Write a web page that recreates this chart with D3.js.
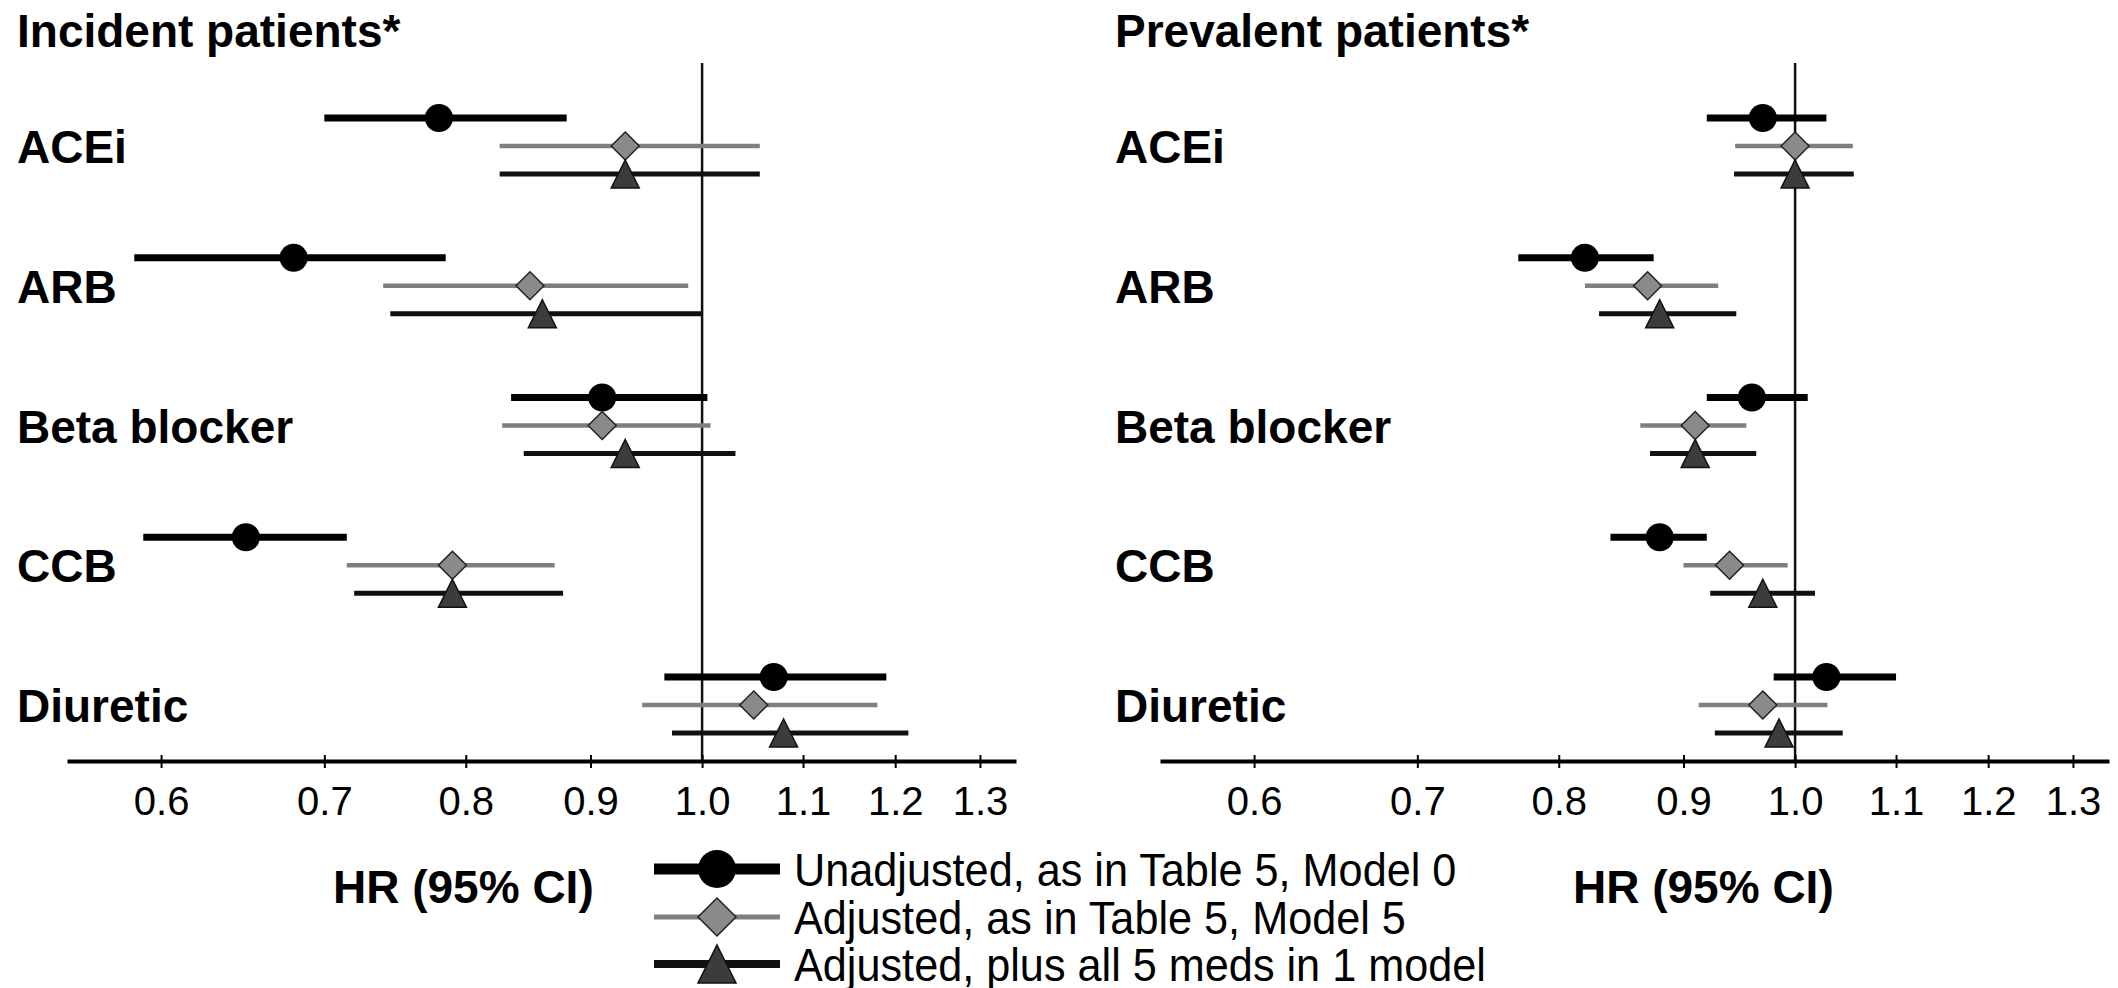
<!DOCTYPE html>
<html>
<head>
<meta charset="utf-8">
<script src="https://cdn.jsdelivr.net/npm/d3@7"></script>
<style>
  body { margin: 0; background: #fff; }
  text { font-family: "Liberation Sans", Arial, sans-serif; fill: #000; }
</style>
</head>
<body>
<script>
const w = 2118;
const h = 988;

// data
const categories = ["ACEi", "ARB", "Beta blocker", "CCB", "Diuretic"];
const tickValues = [0.6, 0.7, 0.8, 0.9, 1.0, 1.1, 1.2, 1.3];
const seriesNames = ["Unadjusted, as in Table 5, Model 0", "Adjusted, as in Table 5, Model 5", "Adjusted, plus all 5 meds in 1 model"];
const panelTitles = ["Incident patients*", "Prevalent patients*"];

// incident patients
const incUnadjEst = [0.78, 0.68, 0.91, 0.65, 1.07];
const incUnadjLo  = [0.70, 0.585, 0.835, 0.59, 0.965];
const incUnadjHi  = [0.88, 0.785, 1.005, 0.715, 1.19];
const incAdj5Est  = [0.93, 0.85, 0.91, 0.79, 1.05];
const incAdj5Lo   = [0.826, 0.74, 0.828, 0.715, 0.945];
const incAdj5Hi   = [1.056, 0.987, 1.008, 0.87, 1.18];
const incAllEst   = [0.93, 0.86, 0.93, 0.79, 1.08];
const incAllLo    = [0.826, 0.745, 0.845, 0.72, 0.972];
const incAllHi    = [1.056, 1.00, 1.032, 0.877, 1.215];

// prevalent patients
const prvUnadjEst = [0.97, 0.82, 0.96, 0.88, 1.03];
const prvUnadjLo  = [0.92, 0.77, 0.92, 0.84, 0.98];
const prvUnadjHi  = [1.03, 0.875, 1.012, 0.92, 1.10];
const prvAdj5Est  = [1.00, 0.87, 0.91, 0.94, 0.97];
const prvAdj5Lo   = [0.945, 0.82, 0.864, 0.90, 0.913];
const prvAdj5Hi   = [1.056, 0.93, 0.955, 0.993, 1.031];
const prvAllEst   = [1.00, 0.88, 0.91, 0.97, 0.985];
const prvAllLo    = [0.944, 0.831, 0.872, 0.923, 0.927];
const prvAllHi    = [1.057, 0.946, 0.964, 1.019, 1.046];

const panels = [
  { title: panelTitles[0], left: 17, range: [67, 1016], hrX: 333,
    series: [[incUnadjEst, incUnadjLo, incUnadjHi], [incAdj5Est, incAdj5Lo, incAdj5Hi], [incAllEst, incAllLo, incAllHi]] },
  { title: panelTitles[1], left: 1115, range: [1160, 2109], hrX: 1573,
    series: [[prvUnadjEst, prvUnadjLo, prvUnadjHi], [prvAdj5Est, prvAdj5Lo, prvAdj5Hi], [prvAllEst, prvAllLo, prvAllHi]] }
];

// styles per series
const lineColor = ["#000", "#7f7f7f", "#111"];
const lineWidth = [7, 4.5, 5];
const markerFill = ["#000", "#8a8a8a", "#3c3c3c"];
const rowGap = 28;
const axisY = 761;

const yScale = d3.scalePoint().domain(categories).range([118, 677]);

function marker(g, type, cx, cy, s) {
  if (type === 0) {
    g.append("circle").attr("cx", cx).attr("cy", cy).attr("r", s)
      .attr("fill", markerFill[0]);
  } else if (type === 1) {
    g.append("path")
      .attr("d", `M${cx},${cy - s}L${cx + s},${cy}L${cx},${cy + s}L${cx - s},${cy}Z`)
      .attr("fill", markerFill[1]).attr("stroke", "#222").attr("stroke-width", 1.5);
  } else {
    g.append("path")
      .attr("d", `M${cx},${cy - s}L${cx + s},${cy + s}L${cx - s},${cy + s}Z`)
      .attr("fill", markerFill[2]).attr("stroke", "#111").attr("stroke-width", 1.5);
  }
}

const svg = d3.select("body")
  .append("svg")
  .attr("width", w)
  .attr("height", h);

svg.append("rect").attr("width", w).attr("height", h).attr("fill", "#fff");

panels.forEach(p => {
  const x = d3.scaleLog().domain([0.549, 1.345]).range(p.range);
  const g = svg.append("g");

  // title
  g.append("text").attr("x", p.left).attr("y", 47)
    .attr("font-size", 46).attr("font-weight", "bold")
    .text(p.title);

  // reference line at HR = 1
  g.append("line")
    .attr("x1", x(1)).attr("x2", x(1))
    .attr("y1", 63).attr("y2", axisY)
    .attr("stroke", "#111").attr("stroke-width", 2.5);

  // category labels
  g.selectAll(".cat")
    .data(categories)
    .enter()
    .append("text")
    .attr("class", "cat")
    .attr("x", p.left)
    .attr("y", d => yScale(d) + rowGap + 17)
    .attr("font-size", 46).attr("font-weight", "bold")
    .text(d => d);

  // CI lines and markers
  p.series.forEach((s, si) => {
    const [est, lo, hi] = s;
    categories.forEach((c, i) => {
      const cy = yScale(c) + si * rowGap;
      g.append("line")
        .attr("x1", x(lo[i])).attr("x2", x(hi[i]))
        .attr("y1", cy).attr("y2", cy)
        .attr("stroke", lineColor[si]).attr("stroke-width", lineWidth[si]);
    });
  });
  p.series.forEach((s, si) => {
    const est = s[0];
    categories.forEach((c, i) => {
      marker(g, si, x(est[i]), yScale(c) + si * rowGap, 14);
    });
  });

  // x axis
  const xAxis = d3.axisBottom(x).tickValues(tickValues)
    .tickFormat(d3.format(".1f")).tickSizeOuter(0).tickSizeInner(7);
  const ax = g.append("g")
    .attr("transform", "translate(0," + axisY + ")")
    .call(xAxis);
  ax.select(".domain").attr("stroke", "#000").attr("stroke-width", 4);
  ax.selectAll(".tick line").attr("y1", -6).attr("y2", 7)
    .attr("stroke", "#000").attr("stroke-width", 2);
  ax.selectAll(".tick text")
    .attr("y", 54).attr("dy", 0)
    .attr("font-size", 40)
    .attr("font-family", "Liberation Sans, Arial, sans-serif")
    .attr("fill", "#000");

  // axis title
  g.append("text").attr("x", p.hrX).attr("y", 903)
    .attr("font-size", 46).attr("font-weight", "bold")
    .text("HR (95% CI)");
});

// legend
const legend = svg.append("g");
const legendRows = [869, 917, 964];
seriesNames.forEach((name, i) => {
  const ly = legendRows[i];
  legend.append("line")
    .attr("x1", 654).attr("x2", 780).attr("y1", ly).attr("y2", ly)
    .attr("stroke", lineColor[i]).attr("stroke-width", [11, 5, 8][i]);
  marker(legend, i, 717, ly, 19);
  legend.append("text")
    .attr("transform", "translate(794," + (ly + 17) + ") scale(0.92,1)")
    .attr("font-size", 47)
    .text(name);
});
</script>
</body>
</html>
